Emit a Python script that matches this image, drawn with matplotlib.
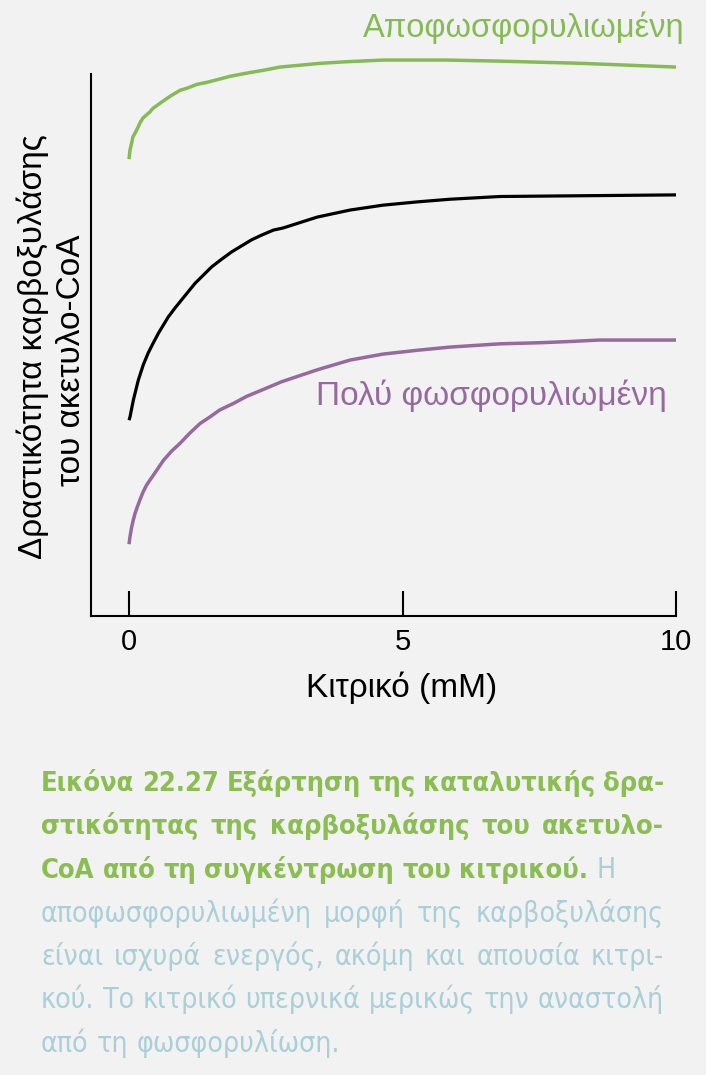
import matplotlib
matplotlib.use("Agg")
import matplotlib.pyplot as plt
from matplotlib import font_manager, ft2font
from matplotlib.font_manager import FontProperties

# curve readings: citrate (mM) vs relative activity (0-100 = axis height)
dephos_x = [0, 0.018, 0.049, 0.07, 0.11, 0.165, 0.2, 0.256, 0.38, 0.44, 0.62, 0.75, 0.93, 1.06, 1.24,
            1.43, 1.66, 1.85, 2.16, 2.45, 2.76, 3.5, 4.0, 4.66, 5.8, 6.78, 7.5, 8.25, 9.0, 10]
dephos_y = [84.3, 86.0, 87.3, 88.4, 89.1, 90.2, 91.0, 91.9, 93.0, 93.7, 95.0, 95.9, 97.0, 97.4, 98.1,
            98.5, 99.1, 99.6, 100.2, 100.7, 101.3, 102.0, 102.3, 102.6, 102.6, 102.4, 102.2, 102.0, 101.7, 101.3]

control_x = [0, 0.018, 0.079, 0.17, 0.26, 0.35, 0.44, 0.54, 0.63, 0.72, 0.84, 0.96, 1.08, 1.21, 1.36,
             1.51, 1.69, 1.88, 2.06, 2.24, 2.43, 2.64, 2.82, 3.44, 4.04, 4.64, 5.26, 5.87, 6.78, 7.8, 10]
control_y = [36.1, 36.7, 39.8, 43.5, 46.3, 48.5, 50.3, 52.2, 53.7, 55.2, 56.8, 58.3, 59.8, 61.4, 62.9,
             64.4, 65.8, 67.2, 68.3, 69.4, 70.3, 71.2, 71.6, 73.6, 74.9, 75.8, 76.4, 76.9, 77.4, 77.5, 77.7]

phos_x = [0, 0.018, 0.049, 0.079, 0.11, 0.152, 0.2, 0.26, 0.32, 0.38, 0.51, 0.63, 0.78, 0.93, 1.11,
          1.30, 1.48, 1.66, 1.91, 2.15, 2.46, 2.79, 3.44, 4.04, 4.64, 5.26, 5.87, 6.78, 7.5, 8.0, 8.6, 10]
phos_y = [13.2, 14.6, 16.4, 17.7, 18.9, 20.1, 21.4, 22.9, 24.1, 25.0, 26.9, 28.7, 30.4, 31.8, 33.7,
          35.5, 36.7, 38.0, 39.2, 40.5, 41.8, 43.2, 45.4, 47.2, 48.3, 49.0, 49.6, 50.2, 50.4, 50.6, 50.9, 50.9]

x_ticks = [0, 5, 10]
x_label = "Κιτρικό (mM)"
y_label_lines = ["Δραστικότητα καρβοξυλάσης", "του ακετυλο-CoA"]
label_dephos = "Απoφωσφορυλιωμένη"
label_phos = "Πολύ φωσφορυλιωμένη"

# caption lines: text ("|" switches bold -> regular), style, justify flag
caption = [
    ("Εικόνα 22.27 Εξάρτηση της καταλυτικής δρα-", "b", True),
    ("στικότητας της καρβοξυλάσης του ακετυλο-", "b", True),
    ("CoA από τη συγκέντρωση του κιτρικού.|Η", "b", False),
    ("αποφωσφορυλιωμένη μορφή της καρβοξυλάσης", "r", True),
    ("είναι ισχυρά ενεργός, ακόμη και απουσία κιτρι-", "r", True),
    ("κού. Το κιτρικό υπερνικά μερικώς την αναστολή", "r", True),
    ("από τη φωσφορυλίωση.", "r", False),
]

W, H = 706, 1075
BG = "#f2f2f2"
GREEN = "#85bb54"
PURPLE = "#9669a0"
CAP_GREEN = "#8abd52"
CAP_BLUE = "#a9cfd8"


def has_greek(path):
    try:
        cmap = ft2font.FT2Font(path).get_charmap()
    except Exception:
        return False
    return all(ord(c) in cmap for c in "αέώΕ")


# narrow face with Greek glyphs for the caption, else plain DejaVu Sans
fonts = font_manager.fontManager.ttflist
narrow_family, narrow_stretch = "DejaVu Sans", "normal"
cands = []
for f in fonts:
    st = str(f.stretch)
    is_narrow = "Narrow" in f.name or "Condensed" in f.name or "condensed" in st
    if is_narrow and has_greek(f.fname):
        cands.append(f)
if cands:
    cands.sort(key=lambda f: (f.name != "DejaVu Sans", "Narrow" not in f.name))
    narrow_family = cands[0].name
    narrow_stretch = "condensed" if "condensed" in str(cands[0].stretch) else "normal"

plt.rcParams["font.family"] = ["Liberation Sans", "DejaVu Sans"]

fig = plt.figure(figsize=(W / 100, H / 100), dpi=100, facecolor=BG)

def fx(px):
    return px / W

def fy(py):
    return 1 - py / H

ax = fig.add_axes([fx(91), fy(615.7), (676 - 91) / W, (615.7 - 40) / H])
ax.set_facecolor("none")
kw = dict(clip_on=False, solid_capstyle="butt", solid_joinstyle="round")
ax.plot(dephos_x, dephos_y, color=GREEN, lw=2.5, **kw)
ax.plot(control_x, control_y, color="black", lw=2.3, **kw)
ax.plot(phos_x, phos_y, color=PURPLE, lw=2.5, **kw)

ax.set_xlim(-0.695, 10)
ax.set_ylim(0, 106.3)
ax.spines["top"].set_visible(False)
ax.spines["right"].set_visible(False)
ax.spines["left"].set_bounds(0, 100)
for s in ("left", "bottom"):
    ax.spines[s].set_linewidth(1.5)
ax.set_xticks(x_ticks)
ax.set_xticklabels([str(t) for t in x_ticks])
ax.set_yticks([])
ax.tick_params(axis="x", direction="in", length=18, width=1.5, pad=9, labelsize=21)

fig.text(fx(402), fy(697), x_label, ha="center", va="baseline", fontsize=24)
fig.text(fx(33), fy(347), y_label_lines[0], rotation=90, ha="center", va="center", fontsize=24)
fig.text(fx(71), fy(360), y_label_lines[1], rotation=90, ha="center", va="center", fontsize=24)

fig.text(fx(685), fy(37), label_dephos, ha="right", va="baseline", fontsize=23.5, color=GREEN)
fig.text(fx(667), fy(405), label_phos, ha="right", va="baseline", fontsize=24, color=PURPLE)

# caption, drawn word by word so lines can be justified like the book
renderer = fig.canvas.get_renderer()
left, right = 41, 664
base0, step = 791, 43.5

def make_word(txt, bold, size):
    fp = FontProperties(family=narrow_family, stretch=narrow_stretch,
                        weight="bold" if bold else "normal", size=size)
    return fig.text(0, 0, txt, fontproperties=fp,
                    color=CAP_GREEN if bold else CAP_BLUE, va="baseline")

def text_width(txt, bold, size):
    t = make_word(txt, bold, size)
    w = t.get_window_extent(renderer).width
    t.remove()
    return w

# size the bold caption so line 3 (set loose in the book) ends at x=617
ref_size = 10.0
bold_part, reg_part = caption[2][0].split("|")
w3 = text_width(bold_part + " ", True, ref_size) + text_width(reg_part, False, ref_size)
bold_size = min(20.0, ref_size * (617 - left) / w3)
# regular text: line 4 runs to about x=653 with plain spaces in the book
w4 = text_width(caption[3][0], False, ref_size)
reg_size = min(bold_size * 1.12, ref_size * (653 - left) / w4)

def size_of(bold):
    return bold_size if bold else reg_size

for i, (line, style, justify) in enumerate(caption):
    words = []
    parts = line.split("|")
    for j, part in enumerate(parts):
        bold = style == "b" and j == 0
        for w in part.split(" "):
            words.append((make_word(w, bold, size_of(bold)), bold))
    widths = [t.get_window_extent(renderer).width for t, b in words]
    last_bold = words[-1][1]
    space = text_width("a a", last_bold, size_of(last_bold)) - text_width("aa", last_bold, size_of(last_bold))
    if justify:
        gap = max((right - left - sum(widths)) / (len(words) - 1), space * 0.5)
    else:
        gap = space
    x = left
    y = base0 + i * step
    for (t, b), w in zip(words, widths):
        t.set_position((fx(x), fy(y)))
        x += w + gap

fig.savefig("out.png", dpi=100, facecolor=BG)
